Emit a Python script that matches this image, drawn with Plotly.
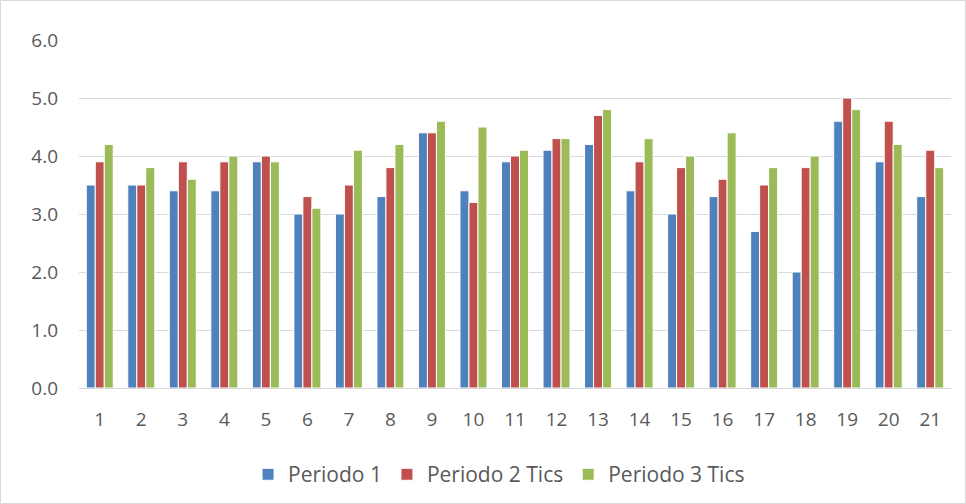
import plotly.graph_objects as go

categories = [str(i) for i in range(1, 22)]
periodo1 = [3.5, 3.5, 3.4, 3.4, 3.9, 3.0, 3.0, 3.3, 4.4, 3.4, 3.9, 4.1, 4.2, 3.4, 3.0, 3.3, 2.7, 2.0, 4.6, 3.9, 3.3]
periodo2 = [3.9, 3.5, 3.9, 3.9, 4.0, 3.3, 3.5, 3.8, 4.4, 3.2, 4.0, 4.3, 4.7, 3.9, 3.8, 3.6, 3.5, 3.8, 5.0, 4.6, 4.1]
periodo3 = [4.2, 3.8, 3.6, 4.0, 3.9, 3.1, 4.1, 4.2, 4.6, 4.5, 4.1, 4.3, 4.8, 4.3, 4.0, 4.4, 3.8, 4.0, 4.8, 4.2, 3.8]
series_names = ["Periodo 1", "Periodo 2 Tics", "Periodo 3 Tics"]
colors = ["#4F81BD", "#C0504D", "#9BBB59"]

W, H = 966, 504
ml, mr, mt, mb = 79, 15, 40, 116
FONT = "Open Sans, Noto Sans, sans-serif"

fig = go.Figure()
for name, vals, c in zip(series_names, [periodo1, periodo2, periodo3], colors):
    fig.add_trace(go.Bar(x=categories, y=vals, name=name,
                         marker=dict(color=c, line=dict(color="white", width=1))))

pw = W - ml - mr
ph = H - mt - mb
fig.add_shape(type="rect", xref="paper", yref="paper",
              x0=(0.5 - ml) / pw, x1=(W - 0.5 - ml) / pw,
              y0=-(H - 0.5 - mt - ph) / ph, y1=(mt - 0.5) / ph + 1,
              line=dict(color="#D9D9D9", width=1), fillcolor="rgba(0,0,0,0)", layer="below")

fig.update_layout(
    width=W, height=H,
    margin=dict(l=ml, r=mr, t=mt, b=mb, autoexpand=False),
    paper_bgcolor="white", plot_bgcolor="white",
    barmode="group", bargap=0.35, bargroupgap=0.0,
    font=dict(family=FONT, size=19, color="#595959"),
    xaxis=dict(type="category", showgrid=False, showline=True, linecolor="#D9D9D9",
               linewidth=1, ticks="", automargin=False,
               tickfont=dict(size=19, color="#595959"), ticklabelstandoff=14),
    yaxis=dict(range=[0, 6], dtick=1, tickformat=".1f", showgrid=True,
               gridcolor="#D9D9D9", gridwidth=1, zeroline=False, ticks="", automargin=False,
               tickfont=dict(size=19, color="#595959"), ticklabelstandoff=20),
    legend=dict(orientation="h", x=0.4817, xanchor="center", y=-0.19, yanchor="top",
                font=dict(size=21, color="#595959"), itemwidth=30),
    showlegend=True,
)

fig.write_html("out.html", config={"displayModeBar": False},
               post_script="document.body.style.margin='0';document.body.style.overflow='hidden';")
